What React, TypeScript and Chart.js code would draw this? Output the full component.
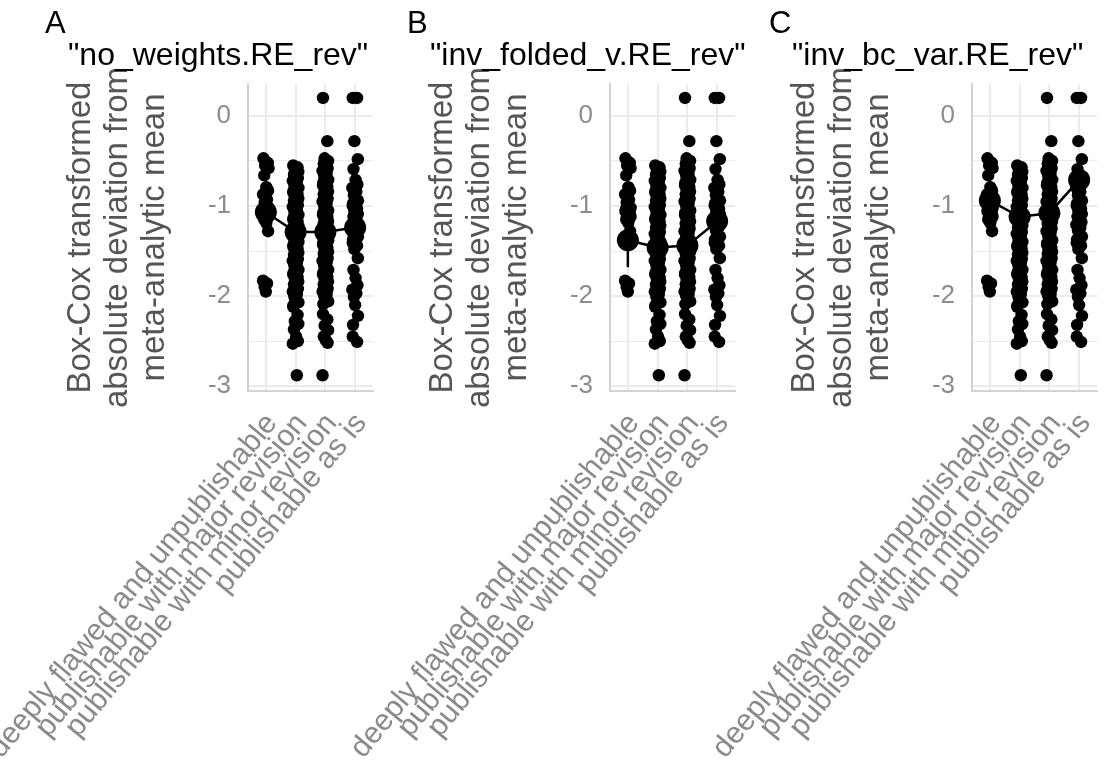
import React, { useEffect, useRef } from 'react';
import { Chart, registerables } from 'chart.js';

Chart.register(...registerables);

// Review outcome categories (x axis)
const CATEGORIES = [
  'deeply flawed and unpublishable',
  'publishable with major revision',
  'publishable with minor revision',
  'publishable as is',
];

// y-axis ticks: integers are labelled, halves are minor grid lines
const Y_TICKS = [-3, -2.5, -2, -1.5, -1, -0.5, 0];
const Y_TITLE = ['Box-Cox transformed', 'absolute deviation from', 'meta-analytic mean'];

// Individual Box-Cox transformed deviations, one list per category
const DEEPLY_FLAWED = [
  -0.47, -0.52, -0.55, -0.58, -0.66, -0.79, -0.83, -0.87, -0.93, -0.96, -0.99, -1.02,
  -1.04, -1.06, -1.08, -1.1, -1.12, -1.15, -1.19, -1.28, -1.83, -1.86, -1.9, -1.95,
];
const MAJOR_REVISION = [
  -0.55, -0.57, -0.6, -0.62, -0.65, -0.66, -0.69, -0.72, -0.73, -0.76, -0.78, -0.8,
  -0.83, -0.85, -0.87, -0.9, -0.92, -0.94, -0.97, -0.99, -1.01, -1.04, -1.06, -1.08,
  -1.1, -1.13, -1.15, -1.17, -1.2, -1.22, -1.24, -1.27, -1.29, -1.31, -1.33, -1.36,
  -1.38, -1.4, -1.43, -1.45, -1.47, -1.5, -1.52, -1.54, -1.57, -1.59, -1.61, -1.64,
  -1.66, -1.69, -1.71, -1.74, -1.76, -1.79, -1.81, -1.84, -1.87, -1.9, -1.92, -1.95,
  -1.98, -2.01, -2.04, -2.07, -2.1, -2.12, -2.21, -2.28, -2.31, -2.37, -2.45, -2.5,
  -2.53, -2.88,
];
const MINOR_REVISION = [
  0.2, -0.28, -0.47, -0.5, -0.53, -0.56, -0.58, -0.61, -0.64, -0.66, -0.69, -0.71,
  -0.74, -0.77, -0.79, -0.82, -0.84, -0.87, -0.89, -0.92, -0.95, -0.97, -1.0, -1.02,
  -1.05, -1.07, -1.1, -1.12, -1.15, -1.17, -1.2, -1.23, -1.25, -1.28, -1.3, -1.33,
  -1.35, -1.38, -1.41, -1.43, -1.46, -1.48, -1.51, -1.53, -1.56, -1.58, -1.61, -1.63,
  -1.66, -1.69, -1.71, -1.74, -1.76, -1.79, -1.82, -1.84, -1.87, -1.9, -1.92, -1.95,
  -1.98, -2.0, -2.03, -2.06, -2.09, -2.2, -2.26, -2.33, -2.38, -2.45, -2.49, -2.52,
  -2.88,
];
const AS_IS = [
  0.2, 0.2, -0.28, -0.48, -0.59, -0.71, -0.76, -0.8, -0.84, -0.88, -0.9, -0.94,
  -0.97, -1.0, -1.03, -1.06, -1.09, -1.12, -1.15, -1.18, -1.21, -1.24, -1.27, -1.3,
  -1.34, -1.37, -1.41, -1.44, -1.48, -1.58, -1.71, -1.8, -1.88, -1.93, -1.97, -2.01,
  -2.1, -2.22, -2.32, -2.45, -2.51,
];

// Estimated means with interval limits, one set per weighting scheme
const MEAN_NO_WEIGHTS = [-1.07, -1.29, -1.29, -1.24];
const LOWER_NO_WEIGHTS = [-1.3, -1.36, -1.35, -1.36];
const UPPER_NO_WEIGHTS = [-0.84, -1.22, -1.23, -1.12];

const MEAN_INV_FOLDED = [-1.38, -1.46, -1.44, -1.17];
const LOWER_INV_FOLDED = [-1.68, -1.55, -1.52, -1.32];
const UPPER_INV_FOLDED = [-1.08, -1.37, -1.36, -1.02];

const MEAN_INV_BC_VAR = [-0.94, -1.12, -1.08, -0.71];
const LOWER_INV_BC_VAR = [-1.2, -1.22, -1.16, -0.86];
const UPPER_INV_BC_VAR = [-0.68, -1.02, -1.0, -0.56];

const PANEL_LETTERS = ['A', 'B', 'C'];
const PANEL_TITLES = ['"no_weights.RE_rev"', '"inv_folded_v.RE_rev"', '"inv_bc_var.RE_rev"'];

const CATEGORY_VALUES = [DEEPLY_FLAWED, MAJOR_REVISION, MINOR_REVISION, AS_IS];
const PANELS = [
  { mean: MEAN_NO_WEIGHTS, lower: LOWER_NO_WEIGHTS, upper: UPPER_NO_WEIGHTS },
  { mean: MEAN_INV_FOLDED, lower: LOWER_INV_FOLDED, upper: UPPER_INV_FOLDED },
  { mean: MEAN_INV_BC_VAR, lower: LOWER_INV_BC_VAR, upper: UPPER_INV_BC_VAR },
];

// small horizontal spread of the raw points around each category
const JITTER = [-0.08, 0.065, -0.025, 0.09, -0.055, 0.015, 0.075, -0.095, 0.04, -0.04, 0.0, 0.095, -0.07];

const FONT = '"Liberation Sans", Arial, Helvetica, sans-serif';
const CANVAS_W = 410;
const CANVAS_H = 763;
const PANEL_STRIDE = 362;
const CANVAS_SHIFT = 20;

const panelText = {
  id: 'panelText',
  afterDraw(chart: any, _args: any, opts: any) {
    const { ctx } = chart;
    const xScale = chart.scales.x;
    ctx.save();
    ctx.fillStyle = '#000000';
    ctx.textAlign = 'left';
    ctx.textBaseline = 'alphabetic';
    ctx.font = `31px ${FONT}`;
    ctx.fillText(opts.letter, CANVAS_SHIFT + 45, 33);
    ctx.font = `32px ${FONT}`;
    ctx.fillText(opts.title, CANVAS_SHIFT + 68, 65);

    ctx.fillStyle = '#8a8a8a';
    ctx.font = `30px ${FONT}`;
    ctx.textAlign = 'right';
    ctx.textBaseline = 'middle';
    opts.labels.forEach((label: string, i: number) => {
      const px = xScale.getPixelForValue(i);
      ctx.save();
      ctx.translate(px + 6, 418);
      ctx.rotate((-50.5 * Math.PI) / 180);
      ctx.fillText(label, 0, 0);
      ctx.restore();
    });
    ctx.restore();
  },
};

function Panel({ index }: { index: number }) {
  const ref = useRef<HTMLCanvasElement | null>(null);

  useEffect(() => {
    if (!ref.current) return;
    const panel = PANELS[index];

    const rawPoints = CATEGORY_VALUES.flatMap((vals, k) =>
      vals.map((v, i) => ({ x: k + JITTER[i % JITTER.length], y: v }))
    );

    const meanLine = {
      data: panel.mean.map((m, k) => ({ x: k, y: m })),
      showLine: true,
      borderColor: '#000000',
      borderWidth: 2.5,
      pointRadius: 11,
      pointBackgroundColor: '#000000',
      pointBorderWidth: 0,
      order: 0,
    };

    const errorBars = panel.mean.map((_, k) => ({
      data: [
        { x: k, y: panel.lower[k] },
        { x: k, y: panel.upper[k] },
      ],
      showLine: true,
      borderColor: '#000000',
      borderWidth: 2.5,
      pointRadius: 0,
      order: 1,
    }));

    const raw = {
      data: rawPoints,
      pointRadius: 6.2,
      pointBackgroundColor: '#000000',
      pointBorderWidth: 0,
      order: 2,
    };

    const chart = new Chart(ref.current, {
      type: 'scatter',
      data: { datasets: [meanLine, ...errorBars, raw] as any },
      plugins: [panelText],
      options: {
        animation: false,
        responsive: false,
        events: [],
        layout: { padding: { left: 82, top: 84, right: 17, bottom: 0 } },
        plugins: {
          legend: { display: false },
          tooltip: { enabled: false },
          panelText: { letter: PANEL_LETTERS[index], title: PANEL_TITLES[index], labels: CATEGORIES },
        } as any,
        scales: {
          x: {
            type: 'linear',
            min: -0.6,
            max: 3.6,
            afterBuildTicks: (s: any) => {
              s.ticks = CATEGORIES.map((_, k) => ({ value: k }));
            },
            afterFit: (s: any) => {
              s.height = 372;
            },
            ticks: { display: false },
            grid: { color: '#ebebeb', lineWidth: 2, drawTicks: false },
            border: { display: true, color: '#d2d2d2', width: 2 },
          },
          y: {
            type: 'linear',
            min: -3.055,
            max: 0.355,
            afterBuildTicks: (s: any) => {
              s.ticks = Y_TICKS.map((v) => ({ value: v }));
            },
            afterFit: (s: any) => {
              s.width = 186;
            },
            ticks: {
              padding: 17,
              color: '#8c8c8c',
              font: { family: FONT, size: 26 },
              callback: (v: any) => (Number.isInteger(v) ? String(v) : ''),
            },
            grid: {
              color: '#ebebeb',
              lineWidth: (c: any) => (Number.isInteger(c.tick?.value) ? 2 : 1),
              drawTicks: false,
            },
            border: { display: true, color: '#d2d2d2', width: 2 },
            title: {
              display: true,
              text: Y_TITLE,
              color: '#555555',
              font: { family: FONT, size: 33, lineHeight: 1.13 },
              padding: 0,
            },
          },
        },
      } as any,
    });

    return () => chart.destroy();
  }, [index]);

  return (
    <canvas
      ref={ref}
      width={CANVAS_W}
      height={CANVAS_H}
      style={{
        position: 'absolute',
        top: 0,
        left: index * PANEL_STRIDE - CANVAS_SHIFT,
        width: CANVAS_W,
        height: CANVAS_H,
      }}
    />
  );
}

export default function App() {
  return (
    <div
      style={{
        position: 'fixed',
        left: 0,
        top: 0,
        width: 1110,
        height: 763,
        overflow: 'hidden',
        background: '#ffffff',
      }}
    >
      {PANEL_LETTERS.map((_, i) => (
        <Panel key={i} index={i} />
      ))}
    </div>
  );
}
